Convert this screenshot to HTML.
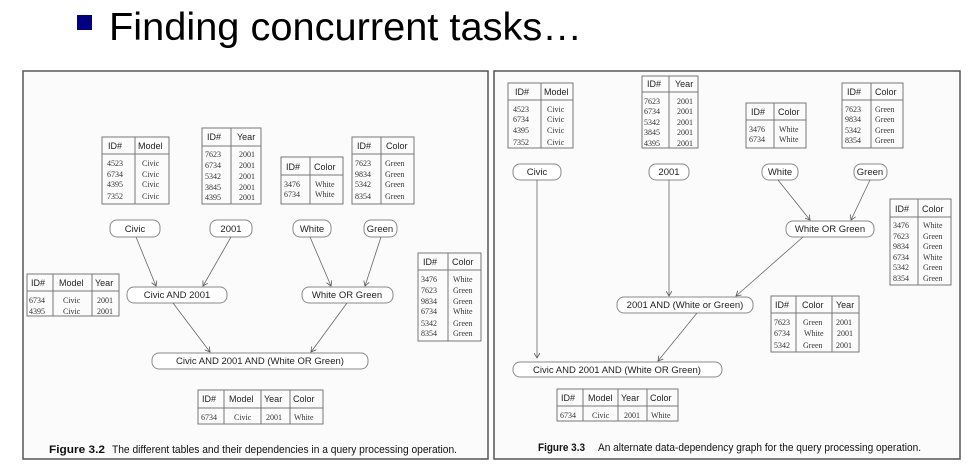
<!DOCTYPE html>
<html><head><meta charset="utf-8"><style>
html,body{margin:0;padding:0;background:#fff;}
svg{display:block}
.h{font-family:"Liberation Sans",sans-serif;font-size:9px;fill:#222}
.b{font-family:"Liberation Serif",serif;font-size:8px;fill:#333}
.n{font-family:"Liberation Sans",sans-serif;font-size:9.5px;fill:#222;text-anchor:middle}
.c{font-family:"Liberation Sans",sans-serif;font-size:11px;fill:#111}
.t rect,.t line{stroke:#777;fill:none;stroke-width:1}
.nd{fill:#fff;stroke:#888;stroke-width:1}
.ar{stroke:#666;stroke-width:0.8;fill:none;marker-end:url(#a)}
</style></head><body>
<svg width="980" height="475" viewBox="0 0 980 475" xmlns="http://www.w3.org/2000/svg">
<defs><marker id="a" markerWidth="6" markerHeight="6" refX="5" refY="3" orient="auto" markerUnits="userSpaceOnUse"><path d="M0,0 L5,3 L0,6" fill="none" stroke="#555" stroke-width="0.8"/></marker></defs>
<rect x="77" y="15" width="15" height="15" fill="#000080"/>
<text x="109" y="40" font-family="Liberation Sans,sans-serif" font-size="39" fill="#000" textLength="473" lengthAdjust="spacingAndGlyphs">Finding concurrent tasks…</text>

<rect x="23" y="71" width="465" height="388" fill="#fbfbfb" stroke="#555" stroke-width="1.5"/>
<rect x="494" y="71" width="466" height="388" fill="#fbfbfb" stroke="#555" stroke-width="1.5"/>

<!-- LEFT PANEL -->
<g class="t"><rect x="102" y="137" width="67" height="67"/><line x1="135" y1="137" x2="135" y2="204"/><line x1="102" y1="154" x2="169" y2="154"/></g>
<text class="h" x="108" y="149">ID#</text><text class="h" x="138" y="149">Model</text>
<text class="b" x="107" y="166">4523</text><text class="b" x="142" y="166">Civic</text>
<text class="b" x="107" y="177">6734</text><text class="b" x="142" y="177">Civic</text>
<text class="b" x="107" y="187">4395</text><text class="b" x="142" y="187">Civic</text>
<text class="b" x="107" y="199">7352</text><text class="b" x="142" y="199">Civic</text>

<g class="t"><rect x="202" y="128" width="59" height="76"/><line x1="231" y1="128" x2="231" y2="204"/><line x1="202" y1="146" x2="261" y2="146"/></g>
<text class="h" x="207" y="140">ID#</text><text class="h" x="237" y="140">Year</text>
<text class="b" x="205" y="157">7623</text><text class="b" x="239" y="157">2001</text>
<text class="b" x="205" y="168">6734</text><text class="b" x="239" y="168">2001</text>
<text class="b" x="205" y="179">5342</text><text class="b" x="239" y="179">2001</text>
<text class="b" x="205" y="190">3845</text><text class="b" x="239" y="190">2001</text>
<text class="b" x="205" y="200">4395</text><text class="b" x="239" y="200">2001</text>

<g class="t"><rect x="281" y="157" width="62" height="47"/><line x1="310" y1="157" x2="310" y2="204"/><line x1="281" y1="175" x2="343" y2="175"/></g>
<text class="h" x="286" y="170">ID#</text><text class="h" x="314" y="170">Color</text>
<text class="b" x="284" y="187">3476</text><text class="b" x="315" y="187">White</text>
<text class="b" x="284" y="197">6734</text><text class="b" x="315" y="197">White</text>

<g class="t"><rect x="352" y="137" width="62" height="67"/><line x1="381" y1="137" x2="381" y2="204"/><line x1="352" y1="154" x2="414" y2="154"/></g>
<text class="h" x="357" y="149">ID#</text><text class="h" x="386" y="149">Color</text>
<text class="b" x="355" y="166">7623</text><text class="b" x="385" y="166">Green</text>
<text class="b" x="355" y="177">9834</text><text class="b" x="385" y="177">Green</text>
<text class="b" x="355" y="187">5342</text><text class="b" x="385" y="187">Green</text>
<text class="b" x="355" y="199">8354</text><text class="b" x="385" y="199">Green</text>

<rect class="nd" x="110" y="220" width="50" height="17" rx="7"/><text class="n" x="135" y="232">Civic</text>
<rect class="nd" x="210" y="220" width="42" height="17" rx="7"/><text class="n" x="231" y="232">2001</text>
<rect class="nd" x="293" y="220" width="38" height="17" rx="7"/><text class="n" x="312" y="232">White</text>
<rect class="nd" x="364" y="220" width="33" height="17" rx="7"/><text class="n" x="380" y="232">Green</text>
<rect class="nd" x="127" y="287" width="100" height="16" rx="7"/><text class="n" x="177" y="298">Civic AND 2001</text>
<rect class="nd" x="302" y="287" width="91" height="16" rx="7"/><text class="n" x="347" y="298">White OR Green</text>
<rect class="nd" x="152" y="353" width="216" height="16" rx="7"/><text class="n" x="260" y="364">Civic AND 2001 AND (White OR Green)</text>

<line class="ar" x1="136" y1="237" x2="156" y2="286"/>
<line class="ar" x1="231" y1="237" x2="203" y2="286"/>
<line class="ar" x1="310" y1="237" x2="331" y2="286"/>
<line class="ar" x1="381" y1="237" x2="365" y2="286"/>
<line class="ar" x1="173" y1="303" x2="210" y2="352"/>
<line class="ar" x1="347" y1="303" x2="311" y2="352"/>

<g class="t"><rect x="27" y="274" width="92" height="42"/><line x1="53" y1="274" x2="53" y2="316"/><line x1="92" y1="274" x2="92" y2="316"/><line x1="27" y1="291" x2="119" y2="291"/></g>
<text class="h" x="31" y="286">ID#</text><text class="h" x="59" y="286">Model</text><text class="h" x="95" y="286">Year</text>
<text class="b" x="29" y="303">6734</text><text class="b" x="63" y="303">Civic</text><text class="b" x="97" y="303">2001</text>
<text class="b" x="29" y="314">4395</text><text class="b" x="63" y="314">Civic</text><text class="b" x="97" y="314">2001</text>

<g class="t"><rect x="418" y="253" width="63" height="88"/><line x1="448" y1="253" x2="448" y2="341"/><line x1="418" y1="270" x2="481" y2="270"/></g>
<text class="h" x="423" y="265">ID#</text><text class="h" x="452" y="265">Color</text>
<text class="b" x="421" y="282">3476</text><text class="b" x="453" y="282">White</text>
<text class="b" x="421" y="293">7623</text><text class="b" x="453" y="293">Green</text>
<text class="b" x="421" y="304">9834</text><text class="b" x="453" y="304">Green</text>
<text class="b" x="421" y="314">6734</text><text class="b" x="453" y="314">White</text>
<text class="b" x="421" y="326">5342</text><text class="b" x="453" y="326">Green</text>
<text class="b" x="421" y="336">8354</text><text class="b" x="453" y="336">Green</text>

<g class="t"><rect x="198" y="390" width="125" height="34"/><line x1="224" y1="390" x2="224" y2="424"/><line x1="261" y1="390" x2="261" y2="424"/><line x1="290" y1="390" x2="290" y2="424"/><line x1="198" y1="408" x2="323" y2="408"/></g>
<text class="h" x="202" y="402">ID#</text><text class="h" x="229" y="402">Model</text><text class="h" x="264" y="402">Year</text><text class="h" x="293" y="402">Color</text>
<text class="b" x="201" y="420">6734</text><text class="b" x="234" y="420">Civic</text><text class="b" x="266" y="420">2001</text><text class="b" x="294" y="420">White</text>

<text class="c" x="49" y="453" font-weight="bold" textLength="56" lengthAdjust="spacingAndGlyphs">Figure 3.2</text>
<text class="c" x="112" y="453" textLength="345" lengthAdjust="spacingAndGlyphs">The different tables and their dependencies in a query processing operation.</text>

<!-- RIGHT PANEL -->
<g class="t"><rect x="508" y="83" width="65" height="65"/><line x1="541" y1="83" x2="541" y2="148"/><line x1="508" y1="100" x2="573" y2="100"/></g>
<text class="h" x="515" y="95">ID#</text><text class="h" x="544" y="95">Model</text>
<text class="b" x="513" y="112">4523</text><text class="b" x="547" y="112">Civic</text>
<text class="b" x="513" y="122">6734</text><text class="b" x="547" y="122">Civic</text>
<text class="b" x="513" y="133">4395</text><text class="b" x="547" y="133">Civic</text>
<text class="b" x="513" y="145">7352</text><text class="b" x="547" y="145">Civic</text>

<g class="t"><rect x="642" y="76" width="56" height="72"/><line x1="669" y1="76" x2="669" y2="148"/><line x1="642" y1="92" x2="698" y2="92"/></g>
<text class="h" x="647" y="87">ID#</text><text class="h" x="675" y="87">Year</text>
<text class="b" x="644" y="104">7623</text><text class="b" x="677" y="104">2001</text>
<text class="b" x="644" y="114">6734</text><text class="b" x="677" y="114">2001</text>
<text class="b" x="644" y="125">5342</text><text class="b" x="677" y="125">2001</text>
<text class="b" x="644" y="135">3845</text><text class="b" x="677" y="135">2001</text>
<text class="b" x="644" y="146">4395</text><text class="b" x="677" y="146">2001</text>

<g class="t"><rect x="746" y="103" width="60" height="45"/><line x1="774" y1="103" x2="774" y2="148"/><line x1="746" y1="120" x2="806" y2="120"/></g>
<text class="h" x="751" y="115">ID#</text><text class="h" x="778" y="115">Color</text>
<text class="b" x="749" y="132">3476</text><text class="b" x="779" y="132">White</text>
<text class="b" x="749" y="142">6734</text><text class="b" x="779" y="142">White</text>

<g class="t"><rect x="842" y="83" width="61" height="65"/><line x1="871" y1="83" x2="871" y2="148"/><line x1="842" y1="100" x2="903" y2="100"/></g>
<text class="h" x="847" y="95">ID#</text><text class="h" x="875" y="95">Color</text>
<text class="b" x="845" y="112">7623</text><text class="b" x="875" y="112">Green</text>
<text class="b" x="845" y="122">9834</text><text class="b" x="875" y="122">Green</text>
<text class="b" x="845" y="133">5342</text><text class="b" x="875" y="133">Green</text>
<text class="b" x="845" y="143">8354</text><text class="b" x="875" y="143">Green</text>

<rect class="nd" x="513" y="164" width="48" height="16" rx="7"/><text class="n" x="537" y="175">Civic</text>
<rect class="nd" x="649" y="164" width="40" height="16" rx="7"/><text class="n" x="669" y="175">2001</text>
<rect class="nd" x="762" y="164" width="36" height="16" rx="7"/><text class="n" x="780" y="175">White</text>
<rect class="nd" x="854" y="164" width="33" height="16" rx="7"/><text class="n" x="870" y="175">Green</text>
<rect class="nd" x="786" y="221" width="88" height="16" rx="7"/><text class="n" x="830" y="232">White OR Green</text>
<rect class="nd" x="617" y="297" width="136" height="16" rx="7"/><text class="n" x="685" y="308">2001 AND (White or Green)</text>
<rect class="nd" x="513" y="362" width="209" height="15" rx="7"/><text class="n" x="617" y="373">Civic AND 2001 AND (White OR Green)</text>

<line class="ar" x1="537" y1="180" x2="537" y2="358"/>
<line class="ar" x1="669" y1="180" x2="669" y2="296"/>
<line class="ar" x1="778" y1="180" x2="810" y2="220"/>
<line class="ar" x1="870" y1="180" x2="851" y2="220"/>
<line class="ar" x1="803" y1="237" x2="736" y2="296"/>
<line class="ar" x1="697" y1="313" x2="658" y2="361"/>

<g class="t"><rect x="890" y="199" width="61" height="86"/><line x1="918" y1="199" x2="918" y2="285"/><line x1="890" y1="217" x2="951" y2="217"/></g>
<text class="h" x="895" y="212">ID#</text><text class="h" x="922" y="212">Color</text>
<text class="b" x="893" y="228">3476</text><text class="b" x="923" y="228">White</text>
<text class="b" x="893" y="239">7623</text><text class="b" x="923" y="239">Green</text>
<text class="b" x="893" y="249">9834</text><text class="b" x="923" y="249">Green</text>
<text class="b" x="893" y="260">6734</text><text class="b" x="923" y="260">White</text>
<text class="b" x="893" y="270">5342</text><text class="b" x="923" y="270">Green</text>
<text class="b" x="893" y="281">8354</text><text class="b" x="923" y="281">Green</text>

<g class="t"><rect x="771" y="296" width="88" height="56"/><line x1="796" y1="296" x2="796" y2="352"/><line x1="832" y1="296" x2="832" y2="352"/><line x1="771" y1="313" x2="859" y2="313"/></g>
<text class="h" x="775" y="308">ID#</text><text class="h" x="802" y="308">Color</text><text class="h" x="836" y="308">Year</text>
<text class="b" x="774" y="325">7623</text><text class="b" x="803" y="325">Green</text><text class="b" x="836" y="325">2001</text>
<text class="b" x="774" y="336">6734</text><text class="b" x="804" y="336">White</text><text class="b" x="837" y="336">2001</text>
<text class="b" x="774" y="348">5342</text><text class="b" x="803" y="348">Green</text><text class="b" x="836" y="348">2001</text>

<g class="t"><rect x="557" y="389" width="121" height="32"/><line x1="583" y1="389" x2="583" y2="421"/><line x1="618" y1="389" x2="618" y2="421"/><line x1="647" y1="389" x2="647" y2="421"/><line x1="557" y1="406" x2="678" y2="406"/></g>
<text class="h" x="561" y="401">ID#</text><text class="h" x="588" y="401">Model</text><text class="h" x="621" y="401">Year</text><text class="h" x="650" y="401">Color</text>
<text class="b" x="560" y="418">6734</text><text class="b" x="592" y="418">Civic</text><text class="b" x="624" y="418">2001</text><text class="b" x="651" y="418">White</text>

<text class="c" x="538" y="451" font-weight="bold" textLength="47" lengthAdjust="spacingAndGlyphs">Figure 3.3</text>
<text class="c" x="598" y="451" textLength="323" lengthAdjust="spacingAndGlyphs">An alternate data-dependency graph for the query processing operation.</text>
</svg>
</body></html>
